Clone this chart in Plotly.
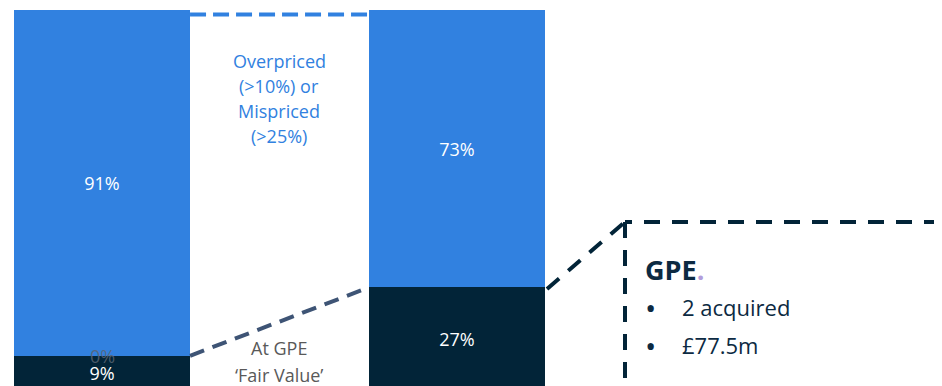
import plotly.graph_objects as go

# ---- data ----
categories = [0, 1]
fair_value = [0.09, 0.27]        # At GPE 'Fair Value'
overpriced = [0.91, 0.73]        # Overpriced (>10%) or Mispriced (>25%)
fair_labels = ["9%", "27%"]
over_labels = ["91%", "73%"]
zero_label = "0%"
over_text = ["Overpriced", "(>10%) or", "Mispriced", "(>25%)"]
fair_text = ["At GPE", "‘Fair Value’"]
gpe_title = "GPE"
gpe_bullets = ["2 acquired", "£77.5m"]

BLUE = "#3181E0"
NAVY = "#022438"
TXT_NAVY = "#0C2A42"
FONT = "Open Sans"
W = 0.496  # bar width

# the page body has an 8px margin; figure is sized to fill the remaining window
OFF = 8
FW, FH = 942 - OFF, 386 - OFF


def sx(px):
    return (px - OFF) / FW


def sy(py):
    return 1 - (py - OFF) / FH


fig = go.Figure()
fig.add_trace(go.Bar(
    x=categories, y=fair_value, width=W, marker=dict(color=NAVY, line=dict(width=0)),
    text=fair_labels, textposition="inside", insidetextanchor="middle",
    textfont=dict(color="white", size=18, family=FONT), hoverinfo="skip",
))
fig.add_trace(go.Bar(
    x=categories, y=overpriced, width=W, marker=dict(color=BLUE, line=dict(width=0)),
    text=over_labels, textposition="inside", insidetextanchor="middle",
    textfont=dict(color="white", size=18, family=FONT), hoverinfo="skip",
))

# stray 0% label of the empty series
fig.add_annotation(x=categories[0], y=fair_value[0], text=zero_label, showarrow=False,
                   font=dict(color="rgba(90,100,115,0.85)", size=18, family=FONT),
                   xanchor="center", yanchor="middle")

x0r = categories[0] + W / 2
x1l = categories[1] - W / 2
top = fair_value[0] + overpriced[0]

# dashed connectors
fig.add_shape(type="line", x0=x0r, x1=x1l, y0=top - 0.012, y1=top - 0.012,
              line=dict(color=BLUE, width=4, dash="16px,7px"))
fig.add_shape(type="line", x0=x0r, x1=x1l, y0=fair_value[0], y1=fair_value[1],
              line=dict(color="#3E5475", width=4, dash="15px,9px"))

# callout box (paper coords for its corner)
cx, cy = sx(625), sy(222)
BOX_DASH = "16px,12px"
fig.add_shape(type="line", xref="paper", yref="paper",
              x0=sx(547), y0=sy(289), x1=cx, y1=cy,
              line=dict(color=NAVY, width=4, dash=BOX_DASH))
fig.add_shape(type="line", xref="paper", yref="paper",
              x0=sx(996), x1=cx, y0=cy, y1=cy,
              line=dict(color=NAVY, width=4, dash=BOX_DASH))
fig.add_shape(type="line", xref="paper", yref="paper",
              x0=cx, x1=cx, y0=cy, y1=-0.1,
              line=dict(color=NAVY, width=4, dash=BOX_DASH))

# middle labels
for i, t in enumerate(over_text):
    fig.add_annotation(xref="paper", yref="paper", x=sx(279), y=sy(61 + 25 * i),
                       text=t, showarrow=False, xanchor="center", yanchor="middle",
                       font=dict(color=BLUE, size=18, family=FONT))
for i, t in enumerate(fair_text):
    fig.add_annotation(xref="paper", yref="paper", x=sx(279), y=sy(348 + 27 * i),
                       text=t, showarrow=False, xanchor="center", yanchor="middle",
                       font=dict(color="#595959", size=18, family=FONT))

# callout text
fig.add_annotation(xref="paper", yref="paper", x=sx(643), y=sy(269),
                   xanchor="left", yanchor="middle", showarrow=False,
                   text=f"<b>{gpe_title}<span style='color:#B39DDB'>.</span></b>",
                   font=dict(color=TXT_NAVY, size=27, family=FONT))
for i, b in enumerate(gpe_bullets):
    yy = sy(307 + 38 * i)
    fig.add_annotation(xref="paper", yref="paper", x=sx(643), y=yy,
                       xanchor="left", yanchor="middle", showarrow=False,
                       text="•", font=dict(color=TXT_NAVY, size=30, family=FONT))
    fig.add_annotation(xref="paper", yref="paper", x=sx(680), y=yy,
                       xanchor="left", yanchor="middle", showarrow=False,
                       text=b, font=dict(color=TXT_NAVY, size=22, family=FONT))

# x: bar 0 centre at screen px 102, bar 1 at 457 (355 px apart)
# y: value 1 at screen px 10, value 0 at screen px 390 (380 px per unit)
fig.update_layout(
    barmode="stack", width=FW, height=FH,
    margin=dict(l=0, r=0, t=0, b=0),
    paper_bgcolor="white", plot_bgcolor="white",
    showlegend=False, bargap=0,
    xaxis=dict(range=[-(102 - OFF) / 355, (942 - 102) / 355], visible=False, fixedrange=True),
    yaxis=dict(range=[(390 - 386) / 380, 1 + (10 - OFF) / 380], visible=False, fixedrange=True),
)
fig.write_html("out.html")
